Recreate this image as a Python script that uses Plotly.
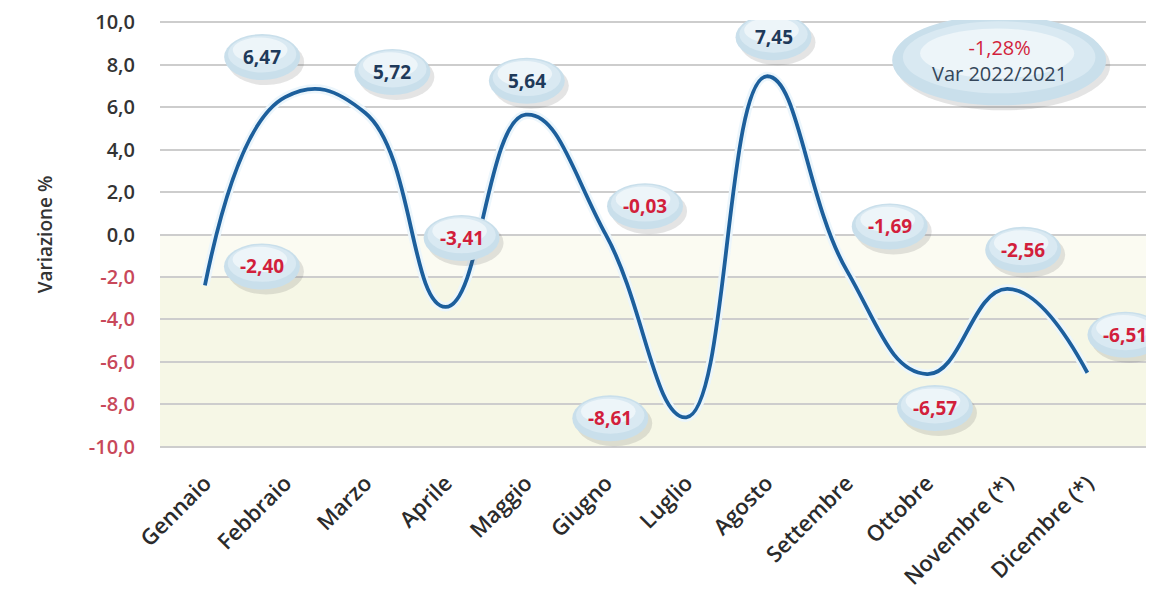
import plotly.graph_objects as go

mesi = ["Gennaio", "Febbraio", "Marzo", "Aprile", "Maggio", "Giugno", "Luglio",
        "Agosto", "Settembre", "Ottobre", "Novembre (*)", "Dicembre (*)"]
variazione = [-2.40, 6.47, 5.72, -3.41, 5.64, -0.03, -8.61, 7.45, -1.69, -6.57, -2.56, -6.51]
etichette = ["-2,40", "6,47", "5,72", "-3,41", "5,64", "-0,03", "-8,61", "7,45", "-1,69", "-6,57", "-2,56", "-6,51"]
y_ticks = [10, 8, 6, 4, 2, 0, -2, -4, -6, -8, -10]
totale_testo = "-1,28%"
totale_sotto = "Var 2022/2021"

# pixel offset of every bubble from its point (the infographic places them by hand)
offsets = [(57, -19), (-23, -40), (27, -41), (16, -69), (1, -34), (39, -29),
           (-76, 1), (7, -39), (43, -44), (8, 34), (16, -39), (38, -38)]

BLUE = "#1c5f9c"
RED = "#d21f3c"
NAVY = "#1f3a5a"

x = list(range(len(mesi)))

fig = go.Figure()

# soft halo under the line
fig.add_trace(go.Scatter(
    x=x, y=variazione, mode="lines",
    line=dict(color="rgba(235,245,252,0.95)", width=9, shape="spline", smoothing=1.3),
    hoverinfo="skip", showlegend=False
))
fig.add_trace(go.Scatter(
    x=x, y=variazione, mode="lines",
    line=dict(color=BLUE, width=3.8, shape="spline", smoothing=1.3),
    showlegend=False
))

shapes = [
    dict(type="rect", xref="paper", yref="y", x0=0, x1=1, y0=-2, y1=0,
         fillcolor="#fbfbf2", line_width=0, layer="below"),
    dict(type="rect", xref="paper", yref="y", x0=0, x1=1, y0=-10, y1=-2,
         fillcolor="#f6f7e6", line_width=0, layer="below"),
]
annotations = []


def bubble(xa, ya, cx, cy, w, h):
    # shadow, body and highlight of a glossy ellipse, sized in pixels
    out = []
    for dx, dy, ww, hh, col in [
        (4, -5, w, h, "rgba(90,90,90,0.16)"),
        (0, 0, w, h, "#c9dfeb"),
        (0, 3, w * 0.9, h * 0.8, "#d9e9f2"),
        (-2, 7, w * 0.72, h * 0.55, "#edf5f9"),
    ]:
        out.append(dict(type="circle", xref="x", yref="y",
                        xsizemode="pixel", ysizemode="pixel",
                        xanchor=xa, yanchor=ya,
                        x0=cx + dx - ww / 2, x1=cx + dx + ww / 2,
                        y0=cy + dy - hh / 2, y1=cy + dy + hh / 2,
                        fillcolor=col, line_width=0, layer="above"))
    return out


for i, (v, t, (ax, ay)) in enumerate(zip(variazione, etichette, offsets)):
    shapes += bubble(i, v, ax, -ay, 76, 46)
    annotations.append(dict(
        x=i, y=v, xref="x", yref="y", text="<b>" + t + "</b>",
        showarrow=False, xshift=ax, yshift=-ay,
        font=dict(family="Open Sans", size=19, color=RED if v < 0 else NAVY)
    ))

# big summary ellipse
shapes += bubble(9.9, 8.2, 0, 0, 214, 90)
annotations.append(dict(
    x=9.9, y=8.2, xref="x", yref="y",
    text="<span style='color:%s'>%s</span><br>%s" % (RED, totale_testo, totale_sotto),
    showarrow=False, align="center",
    font=dict(family="Open Sans", size=20, color="#34465a")
))

tick_text = []
for v in y_ticks:
    s = ("%.1f" % v).replace(".", ",")
    col = "#c8485a" if v < 0 else "#333333"
    tick_text.append("<span style='color:%s'>%s</span>" % (col, s))

# the page body adds 8px around the figure, so the figure is 8px smaller
fig.update_layout(
    width=1146, height=590,
    margin=dict(l=152, r=0, t=12, b=149),
    plot_bgcolor="white", paper_bgcolor="white",
    shapes=shapes, annotations=annotations,
    font=dict(family="Open Sans", color="#333333"),
    xaxis=dict(
        range=[-0.56, 11.83], tickvals=x, ticktext=mesi, tickangle=-45,
        showgrid=False, zeroline=False, showline=False, ticks="",
        automargin=False, ticklabelstandoff=16,
        tickfont=dict(family="Open Sans", size=22, color="#2b2b2b", weight=600),
    ),
    yaxis=dict(
        range=[-10.1, 10.1], tickvals=y_ticks, ticktext=tick_text,
        showgrid=True, gridcolor="#cdcdcd", gridwidth=2,
        zeroline=False, showline=False, ticks="", ticklabelstandoff=24,
        automargin=False,
        tickfont=dict(family="Open Sans", size=20, weight=600),
        title=dict(text="Variazione %", standoff=31,
                   font=dict(family="Open Sans", size=19, color="#333333", weight=600)),
    ),
)

fig.write_html("out.html")
